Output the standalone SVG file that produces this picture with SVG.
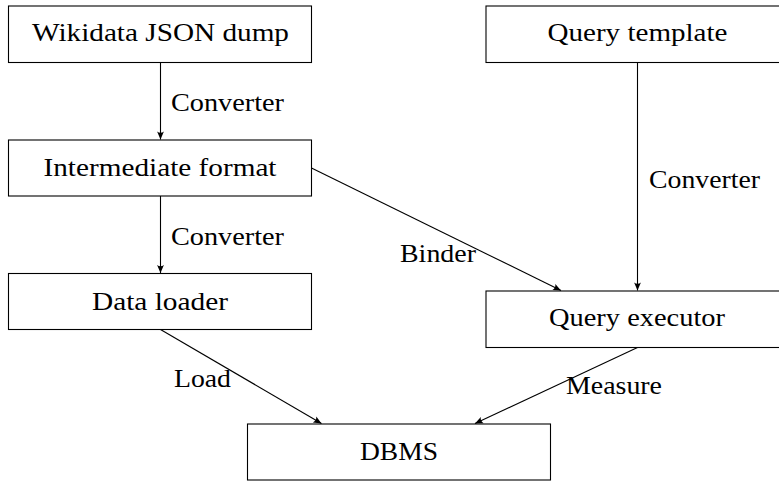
<svg xmlns="http://www.w3.org/2000/svg" width="779" height="482" viewBox="0 0 779 482">
  <style>
    .box { fill: #fff; stroke: #000; stroke-width: 1.1; }
    .label { font-family: "Liberation Serif", "Times New Roman", serif; font-size: 25.5px; fill: #000; }
    .mid { text-anchor: middle; }
    .edge { fill: none; stroke: #000; stroke-width: 1.1; marker-end: url(#arrow); }
  </style>
  <defs>
    <marker id="arrow" markerUnits="userSpaceOnUse" markerWidth="12" markerHeight="10" viewBox="-9 -5 10 10" refX="0" refY="0" orient="auto">
      <path d="M0,0 L-8,-3.4 Q-5.6,0 -8,3.4 Z" fill="#000"/>
    </marker>
  </defs>

  <rect width="779" height="482" fill="#fff"/>

  <!-- connectors -->
  <g id="connectors">
    <line class="edge" x1="160.5" y1="62.5" x2="160.5" y2="139.5"/>
    <line class="edge" x1="160.5" y1="196" x2="160.5" y2="273"/>
    <line class="edge" x1="637.5" y1="62.5" x2="637.5" y2="290.5"/>
    <line class="edge" x1="311.5" y1="168" x2="561" y2="290.5"/>
    <line class="edge" x1="160.5" y1="329.5" x2="321.5" y2="423.5"/>
    <line class="edge" x1="637.5" y1="347.5" x2="475" y2="423.5"/>
    <text class="label" x="171" y="110.5" textLength="113" lengthAdjust="spacingAndGlyphs">Converter</text>
    <text class="label" x="171" y="244.5" textLength="113" lengthAdjust="spacingAndGlyphs">Converter</text>
    <text class="label" x="649" y="187.5" textLength="111" lengthAdjust="spacingAndGlyphs">Converter</text>
    <text class="label" x="400" y="262" textLength="76" lengthAdjust="spacingAndGlyphs">Binder</text>
    <text class="label" x="174" y="386.5" textLength="57" lengthAdjust="spacingAndGlyphs">Load</text>
    <text class="label" x="566" y="394" textLength="96" lengthAdjust="spacingAndGlyphs">Measure</text>
  </g>

  <!-- nodes -->
  <g id="wikidata-dump">
    <rect class="box" x="8.5" y="6" width="303" height="56.5"/>
    <text class="label mid" x="160.5" y="41" textLength="257" lengthAdjust="spacingAndGlyphs">Wikidata JSON dump</text>
  </g>
  <g id="query-template">
    <rect class="box" x="486" y="6" width="303" height="56.5"/>
    <text class="label mid" x="637.5" y="41" textLength="180" lengthAdjust="spacingAndGlyphs">Query template</text>
  </g>
  <g id="intermediate-format">
    <rect class="box" x="8.5" y="140" width="303" height="56"/>
    <text class="label mid" x="160" y="176" textLength="233" lengthAdjust="spacingAndGlyphs">Intermediate format</text>
  </g>
  <g id="data-loader">
    <rect class="box" x="8.5" y="273.5" width="303" height="56"/>
    <text class="label mid" x="160" y="310" textLength="136" lengthAdjust="spacingAndGlyphs">Data loader</text>
  </g>
  <g id="query-executor">
    <rect class="box" x="486" y="291" width="303" height="56.5"/>
    <text class="label mid" x="637" y="326" textLength="176" lengthAdjust="spacingAndGlyphs">Query executor</text>
  </g>
  <g id="dbms">
    <rect class="box" x="247.5" y="424" width="303" height="56"/>
    <text class="label mid" x="399" y="459.5" textLength="78" lengthAdjust="spacingAndGlyphs">DBMS</text>
  </g>
</svg>
